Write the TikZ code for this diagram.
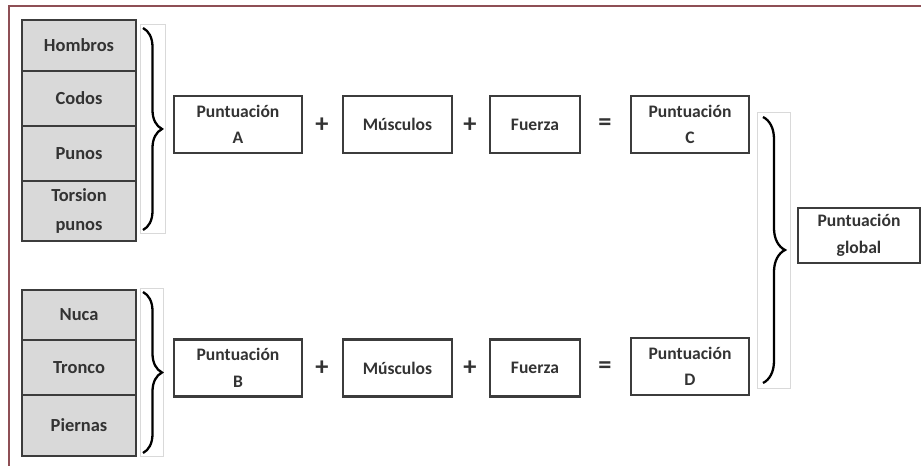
\documentclass[tikz,border=0pt]{standalone}
\usepackage{fontspec}
\setmainfont{Carlito}
\usetikzlibrary{positioning,decorations.pathreplacing}
\definecolor{marco}{HTML}{8E4F55}
\definecolor{borde}{HTML}{3C3C3C}
\definecolor{gris}{HTML}{D9D9D9}
\definecolor{texto}{HTML}{333333}
\tikzset{
	parte/.style={draw=borde,line width=1.3pt,fill=gris,minimum width=2.28cm,inner sep=0pt,outer sep=0pt,text=texto,font=\fontsize{10.5}{16}\selectfont\bfseries,align=center},
	caja/.style={draw=borde,line width=1.2pt,minimum height=1.14cm,inner sep=0pt,text=texto,font=\fontsize{10}{15}\selectfont\bfseries,align=center},
	signo/.style={text=texto,font=\fontsize{15}{15}\selectfont\bfseries},
	llave/.style={decorate,decoration={brace,amplitude=#1},line width=1.3pt},
	marcollave/.style={draw=gray!30,line width=0.4pt}
}
\begin{document}
\begin{tikzpicture}[x=0.02cm,y=-0.02cm]
			\useasboundingbox (0,0) rectangle (921,466);
			\draw[marco,line width=1.2pt] (9,6) rectangle (940,480);
			\node[parte,minimum height=1.02cm](hom) at (79,45.5) {Hombros};
			\node[parte,minimum height=1.1cm](cod)[below=0pt of hom] {Codos};
			\node[parte,minimum height=1.1cm](pun)[below=0pt of cod] {Punos};
			\node[parte,minimum height=1.2cm](tor)[below=0pt of pun] {Torsion\\punos};
			\node[parte,minimum height=1.0cm](nuc) at (79,315) {Nuca};
			\node[parte,minimum height=1.1cm](tro)[below=0pt of nuc] {Tronco};
			\node[parte,minimum height=1.22cm](pie)[below=0pt of tro] {Piernas};
			\draw[marcollave] (140,24) rectangle (165,233);
			\draw[marcollave] (140,288) rectangle (163,456);
			\draw[marcollave] (757,112) rectangle (790,388);
			\draw[llave=0.38cm] (143,28) -- (143,230);
			\draw[llave=0.38cm] (143,292) -- (143,453);
			\draw[llave=0.44cm] (763,117) -- (763,383);
			\node[caja,minimum width=2.56cm](pa) at (238,124.5) {Puntuación\\A};
			\node[signo](s1) at (322,125) {+};
			\node[caja,minimum width=2.18cm](mu1) at (397.5,124.5) {Músculos};
			\node[signo](s2) at (470,125) {+};
			\node[caja,minimum width=1.8cm](fu1) at (535,124.5) {Fuerza};
			\node[signo](s3) at (605,125) {=};
			\node[caja,minimum width=2.36cm](pc) at (690,124.5) {Puntuación\\C};
			\node[caja,minimum width=2.56cm](pb) at (238,368) {Puntuación\\B};
			\node[signo](s4) at (322,368) {+};
			\node[caja,minimum width=2.18cm](mu2) at (397.5,368) {Músculos};
			\node[signo](s5) at (470,368) {+};
			\node[caja,minimum width=1.8cm](fu2) at (535,368) {Fuerza};
			\node[signo](s6) at (605,368) {=};
			\node[caja,minimum width=2.36cm](pd) at (690,366.5) {Puntuación\\D};
			\node[caja,minimum width=2.44cm,minimum height=1.1cm](pg) at (859,235.5) {Puntuación\\global};
\end{tikzpicture}
\end{document}
